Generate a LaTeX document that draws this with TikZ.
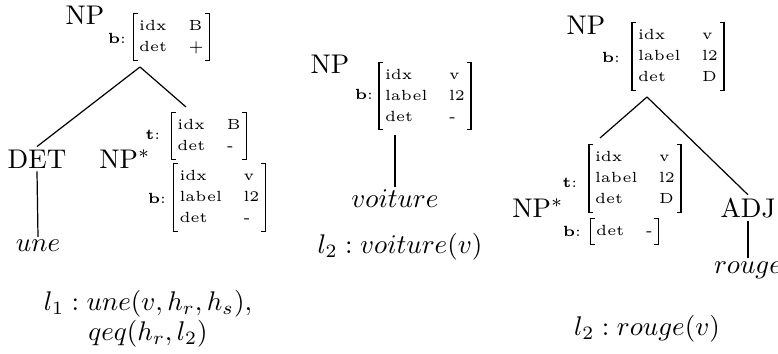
\documentclass[tikz,border=0pt]{standalone}
\usepackage{array}
\tikzset{
  lab/.style={inner sep=1pt, font=\normalsize},
  fs/.style={inner xsep=2pt, inner ysep=0.6pt, font=\fontsize{5.45}{7.8}\selectfont},
  feat/.style={inner sep=0pt, font=\fontsize{5.45}{6}\selectfont},
  brk/.style={line width=0.45pt},
  edge/.style={line width=0.45pt},
}
\newcommand\fsbr[1]{%
  \draw[brk] ([xshift=1.6pt]#1.north west) -- (#1.north west) -- (#1.south west) -- ([xshift=1.6pt]#1.south west);
  \draw[brk] ([xshift=-1.6pt]#1.north east) -- (#1.north east) -- (#1.south east) -- ([xshift=-1.6pt]#1.south east);}
\newcommand\fsrows[1]{\begin{tabular}{@{}l@{\hspace{8pt}}l@{}}#1\end{tabular}}
\begin{document}
\begin{tikzpicture}[x=0.3704pt,y=-0.3704pt]
\useasboundingbox (0,0) rectangle (778,354);
% ---------- tree 1 ----------
\node[lab] (np1) at (85,15) {NP};
\node[feat] (b1) at (117,38) {\textbf{b}:};
\node[fs] (fs1) at (171.5,37) {\fsrows{idx & B\\ det & +}};
\fsbr{fs1}
\coordinate (r1) at (140,67);
\node[lab] (det1) at (37,159) {DET};
\node[lab] (nps1) at (125,159) {NP$^*$};
\node[feat] (t1) at (153,135) {\textbf{t}:};
\node[fs] (fs1t) at (209,136) {\fsrows{idx & B\\ det & -}};
\fsbr{fs1t}
\coordinate (e1) at (186,107);
\node[feat] (b1b) at (157,198) {\textbf{b}:};
\node[fs] (fs1b) at (219.5,197.5) {\fsrows{idx & v\\ label & l2\\ det & -}};
\fsbr{fs1b}
\node[lab] (une1) at (38,246) {$une$};
\node[lab, align=center] (f1) at (148,319) {$l_1 : une(v,h_r,h_s),$\\[-1pt] $qeq(h_r,l_2)$};
\draw[edge] (r1) -- (det1.north);
\draw[edge] (r1) -- (e1);
\draw[edge] (det1.south) -- (une1.north);
% ---------- tree 2 ----------
\node[lab] (np2) at (330,64) {NP};
\node[feat] (b2) at (364,94) {\textbf{b}:};
\node[fs] (fs2) at (425,96) {\fsrows{idx & v\\ label & l2\\ det & -}};
\fsbr{fs2}
\coordinate (r2) at (395,135);
\node[lab] (voit2) at (395,199) {$voiture$};
\node[lab] (f2) at (400,247) {$l_2 : voiture(v)$};
\draw[edge] (r2) -- (voit2.north);
% ---------- tree 3 ----------
\node[lab] (np3) at (586,25) {NP};
\node[feat] (b3) at (611,57) {\textbf{b}:};
\node[fs] (fs3) at (678,56.5) {\fsrows{idx & v\\ label & l2\\ det & D}};
\fsbr{fs3}
\coordinate (r3) at (647,97);
\coordinate (e3) at (600,138);
\node[feat] (t3) at (570,183) {\textbf{t}:};
\node[fs] (fs3t) at (635,178.5) {\fsrows{idx & v\\ label & l2\\ det & D}};
\fsbr{fs3t}
\node[lab] (nps3) at (538,208) {NP$^*$};
\node[feat] (b3b) at (572,231) {\textbf{b}:};
\node[fs] (fs3b) at (624.5,231.5) {\fsrows{det & -}};
\fsbr{fs3b}
\node[lab] (adj3) at (748,208) {ADJ};
\node[lab] (rouge3) at (748,270) {$rouge$};
\node[lab] (f3) at (647,329) {$l_2 : rouge(v)$};
\draw[edge] (r3) -- (e3);
\draw[edge] (r3) -- (adj3.north);
\draw[edge] (adj3.south) -- (rouge3.north);
\end{tikzpicture}
\end{document}
